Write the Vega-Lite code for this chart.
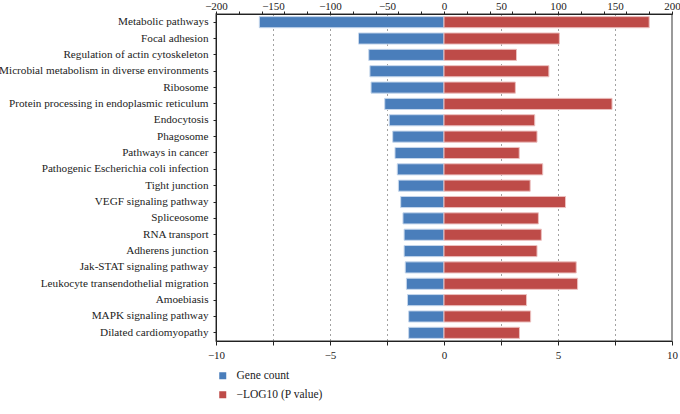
{
  "$schema": "https://vega.github.io/schema/vega-lite/v6.json",
  "width": 456,
  "height": 327,
  "autosize": {"type": "none"},
  "padding": {"left": 216, "top": 14, "right": 8, "bottom": 73},
  "config": {
    "font": "Liberation Serif",
    "view": {"stroke": "#7a7a7a", "strokeWidth": 1.5},
    "axis": {
      "labelFont": "Liberation Serif",
      "labelFontSize": 11,
      "labelColor": "#222",
      "domainColor": "#222",
      "tickColor": "#222",
      "labelLimit": 0,
      "title": null
    }
  },
  "data": {
    "values": [
      {"pathway": "Metabolic pathways", "gene_count": -162, "logp": 9.0},
      {"pathway": "Focal adhesion", "gene_count": -75, "logp": 5.06},
      {"pathway": "Regulation of actin cytoskeleton", "gene_count": -66, "logp": 3.18},
      {"pathway": "Microbial metabolism in diverse environments", "gene_count": -65, "logp": 4.6},
      {"pathway": "Ribosome", "gene_count": -64, "logp": 3.13},
      {"pathway": "Protein processing in endoplasmic reticulum", "gene_count": -52, "logp": 7.37},
      {"pathway": "Endocytosis", "gene_count": -48, "logp": 3.98},
      {"pathway": "Phagosome", "gene_count": -45, "logp": 4.08},
      {"pathway": "Pathways in cancer", "gene_count": -43, "logp": 3.3},
      {"pathway": "Pathogenic Escherichia coli infection", "gene_count": -41, "logp": 4.33},
      {"pathway": "Tight junction", "gene_count": -40, "logp": 3.78},
      {"pathway": "VEGF signaling pathway", "gene_count": -38, "logp": 5.33},
      {"pathway": "Spliceosome", "gene_count": -36, "logp": 4.14},
      {"pathway": "RNA transport", "gene_count": -35, "logp": 4.27},
      {"pathway": "Adherens junction", "gene_count": -35, "logp": 4.08},
      {"pathway": "Jak-STAT signaling pathway", "gene_count": -34, "logp": 5.8},
      {"pathway": "Leukocyte transendothelial migration", "gene_count": -33, "logp": 5.86},
      {"pathway": "Amoebiasis", "gene_count": -32, "logp": 3.62},
      {"pathway": "MAPK signaling pathway", "gene_count": -31, "logp": 3.8},
      {"pathway": "Dilated cardiomyopathy", "gene_count": -31, "logp": 3.31}
    ]
  },
  "layer": [
    {
      "mark": {"type": "bar", "stroke": "#c6d7ec", "strokeWidth": 1},
      "encoding": {
        "y": {
          "field": "pathway",
          "type": "nominal",
          "sort": null,
          "scale": {"paddingInner": 0.32, "paddingOuter": 0.16},
          "axis": {"title": null, "tickSize": 3, "labelPadding": 5, "labelFontSize": 11.2, "labelLimit": 0, "domainColor": "#222"}
        },
        "x": {
          "field": "gene_count",
          "type": "quantitative",
          "scale": {"domain": [-200, 200], "nice": false},
          "axis": {
            "orient": "top",
            "title": null,
            "values": [-200,-190,-180,-170,-160,-150,-140,-130,-120,-110,-100,-90,-80,-70,-60,-50,-40,-30,-20,-10,0,10,20,30,40,50,60,70,80,90,100,110,120,130,140,150,160,170,180,190,200],
            "labelExpr": "datum.value % 50 === 0 ? format(datum.value, 'd') : ''",
            "tickSize": 3,
            "tickOpacity": {"condition": {"test": "datum.value % 20 === 0", "value": 1}, "value": 0},
            "labelPadding": 0,
            "labelFontSize": 11,
            "labelFlush": false,
            "grid": true,
            "gridColor": "#444",
            "gridDash": [1, 4],
            "gridWidth": 1,
            "gridOpacity": {"condition": {"test": "datum.value % 50 === 0 && datum.value !== 0 && abs(datum.value) < 200", "value": 1}, "value": 0}
          }
        },
        "x2": {"datum": 0},
        "color": {
          "datum": "Gene count",
          "type": "nominal",
          "scale": {"domain": ["Gene count", "−LOG10 (P value)"], "range": ["#4a7ebb", "#be4b48"]},
          "legend": {
            "title": null,
            "orient": "none",
            "legendX": 1,
            "legendY": 356,
            "symbolType": "square",
            "symbolSize": 49,
            "symbolStrokeWidth": 0,
            "labelFontSize": 11.5,
            "labelFont": "Liberation Serif",
            "labelColor": "#222",
            "labelOffset": 8,
            "rowPadding": 6,
            "padding": 0
          }
        }
      }
    },
    {
      "mark": {"type": "bar", "stroke": "#ecc0bf", "strokeWidth": 1},
      "encoding": {
        "y": {"field": "pathway", "type": "nominal", "sort": null},
        "x": {
          "field": "logp",
          "type": "quantitative",
          "scale": {"domain": [-10, 10], "nice": false},
          "axis": {
            "orient": "bottom",
            "title": null,
            "values": [-10, -7.5, -5, -2.5, 0, 2.5, 5, 7.5, 10],
            "labelExpr": "datum.value % 5 === 0 ? format(datum.value, 'd') : ''",
            "tickSize": 4,
            "labelPadding": 4,
            "labelFlush": false,
            "grid": false
          }
        },
        "x2": {"datum": 0},
        "color": {"datum": "−LOG10 (P value)", "type": "nominal"}
      }
    }
  ],
  "resolve": {"scale": {"x": "independent"}, "axis": {"x": "independent"}}
}
